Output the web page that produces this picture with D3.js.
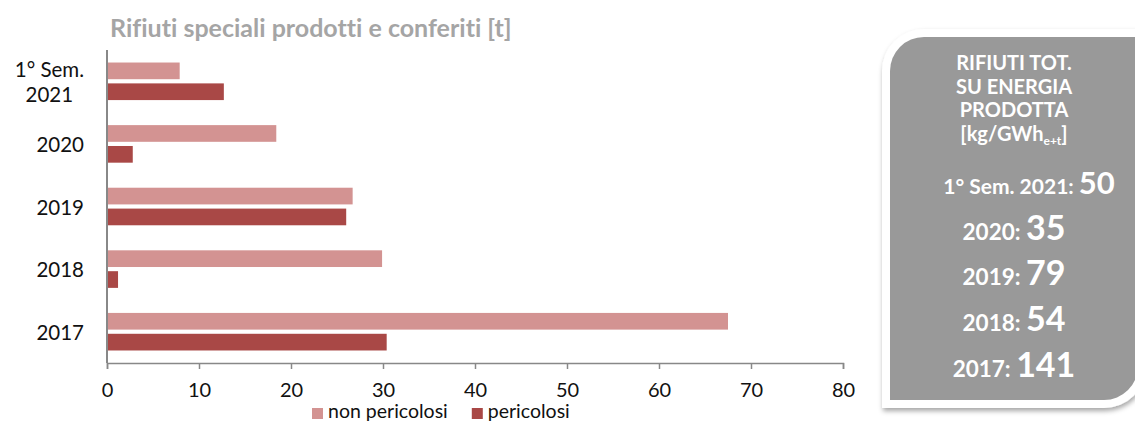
<!DOCTYPE html>
<html>
<head>
<meta charset="utf-8">
<script src="https://cdn.jsdelivr.net/npm/d3@7"></script>
<style>
  html, body { margin: 0; padding: 0; background: #fff; }
  svg { display: block; font-family: Lato, "Open Sans", sans-serif; font-variant-ligatures: none; }
</style>
</head>
<body>
<svg id="chart" width="1135" height="423"></svg>
<script>
// Special waste produced and delivered, tonnes per period
const categories = ["1° Sem.\n2021", "2020", "2019", "2018", "2017"];
const nonPericolosi = [7.9, 18.4, 26.7, 29.9, 67.5];
const pericolosi = [12.7, 2.8, 26.0, 1.2, 30.4];
const seriesNames = ["non pericolosi", "pericolosi"];
const seriesColors = ["#d39392", "#a94846"];
const xTicks = [0, 10, 20, 30, 40, 50, 60, 70, 80];

// Total waste over energy produced [kg/GWh e+t]
const ratioLabels = ["1° Sem. 2021", "2020", "2019", "2018", "2017"];
const ratioValues = [50, 35, 79, 54, 141];

const svg = d3.select("#chart");

const plot = { left: 107, right: 843, top: 50, bottom: 363 };

const x = d3.scaleLinear().domain([0, 80]).range([plot.left, plot.right]);
const y = d3.scaleBand().domain(categories).range([plot.top, plot.bottom]).padding(0);
const ySeries = d3.scaleBand()
  .domain(seriesNames)
  .range([y.bandwidth() * 0.2, y.bandwidth() * 0.8])
  .paddingInner(0.2);

// Title
svg.append("text")
  .attr("x", 110).attr("y", 37)
  .attr("font-size", 25).attr("font-weight", 700)
  .attr("fill", "#a5a5a5")
  .text("Rifiuti speciali prodotti e conferiti [t]");

// Bars
const rows = categories.map((c, i) => ({ cat: c, values: [nonPericolosi[i], pericolosi[i]] }));
const groups = svg.append("g").selectAll("g").data(rows).join("g")
  .attr("transform", d => `translate(0,${y(d.cat)})`);
groups.selectAll("rect")
  .data(d => d.values.map((v, k) => ({ name: seriesNames[k], v, k })))
  .join("rect")
  .attr("x", x(0))
  .attr("y", d => ySeries(d.name))
  .attr("width", d => x(d.v) - x(0))
  .attr("height", ySeries.bandwidth())
  .attr("fill", d => seriesColors[d.k]);

// Category labels (multi-line labels are centred on their longest line)
const labelRight = 84;
const catLabels = svg.append("g").attr("font-size", 20.5).attr("fill", "#111");
categories.forEach(c => {
  const lines = c.split("\n");
  const cy = y(c) + y.bandwidth() / 2;
  const lh = 25;
  const t = catLabels.append("text").attr("dominant-baseline", "central");
  lines.forEach((ln, j) => {
    t.append("tspan").attr("y", cy + (j - (lines.length - 1) / 2) * lh).text(ln);
  });
  if (lines.length === 1) {
    t.attr("text-anchor", "end").selectAll("tspan").attr("x", labelRight);
  } else {
    const w = d3.max(t.selectAll("tspan").nodes(), n => n.getComputedTextLength());
    t.attr("text-anchor", "middle").selectAll("tspan").attr("x", labelRight - w / 2);
  }
});

// Axes
const axisColor = "#888";
const xAxis = svg.append("g")
  .attr("transform", `translate(0,${plot.bottom})`)
  .call(d3.axisBottom(x).tickValues(xTicks).tickSize(6).tickSizeOuter(6).tickPadding(14));
xAxis.select(".domain").attr("stroke", axisColor).attr("stroke-width", 1.5);
xAxis.selectAll(".tick line").attr("stroke", axisColor).attr("stroke-width", 1.5);
xAxis.selectAll(".tick text").attr("font-size", 20).attr("fill", "#111")
  .attr("font-family", "Lato, sans-serif");

svg.append("line")
  .attr("x1", plot.left).attr("x2", plot.left)
  .attr("y1", plot.top).attr("y2", plot.bottom)
  .attr("stroke", axisColor).attr("stroke-width", 2);

// Legend
const legend = svg.append("g").attr("font-size", 19.5).attr("fill", "#111");
let lx = 312;
seriesNames.forEach((name, k) => {
  legend.append("rect").attr("x", lx).attr("y", 408).attr("width", 11).attr("height", 11)
    .attr("fill", seriesColors[k]);
  const t = legend.append("text").attr("x", lx + 16).attr("y", 418).text(name);
  lx += 16 + t.node().getComputedTextLength() + 24;
});

// Side panel with rounded top-left and bottom-right corners
function panelPath(x0, y0, x1, y1, r) {
  return `M${x0},${y0 + r} A${r},${r} 0 0 1 ${x0 + r},${y0} L${x1},${y0} L${x1},${y1 - r}` +
         ` A${r},${r} 0 0 1 ${x1 - r},${y1} L${x0},${y1} Z`;
}
const defs = svg.append("defs");
const shadow = defs.append("filter").attr("id", "panelShadow")
  .attr("x", "-10%").attr("y", "-10%").attr("width", "120%").attr("height", "120%");
shadow.append("feDropShadow").attr("dx", 1).attr("dy", 3).attr("stdDeviation", 2.5)
  .attr("flood-color", "#000").attr("flood-opacity", 0.35);

svg.append("path").attr("d", panelPath(882, 29, 1146, 408, 42))
  .attr("fill", "#fff").attr("filter", "url(#panelShadow)");
svg.append("path").attr("d", panelPath(890, 37, 1138, 400, 34))
  .attr("fill", "#999");

const panel = svg.append("g").attr("fill", "#fff").attr("font-weight", 700)
  .attr("text-anchor", "middle");
const cx = 1014;
const head = ["RIFIUTI TOT.", "SU ENERGIA", "PRODOTTA"];
head.forEach((h, i) => {
  panel.append("text").attr("x", cx).attr("y", 70 + i * 23.5).attr("font-size", 20).text(h);
});
const unit = panel.append("text").attr("x", cx).attr("y", 141).attr("font-size", 20);
unit.append("tspan").text("[kg/GWh");
unit.append("tspan").attr("font-size", 12).attr("dy", 4).text("e+t");
unit.append("tspan").attr("dy", -4).text("]");

ratioLabels.forEach((lab, i) => {
  const first = i === 0;
  const t = panel.append("text")
    .attr("x", first ? 1029 : cx)
    .attr("y", 194 + i * 45.7);
  t.append("tspan").attr("font-size", first ? 21 : 22.5).text(lab + ": ");
  t.append("tspan").attr("font-size", first ? 31 : 34).text(ratioValues[i]);
});
</script>
</body>
</html>
